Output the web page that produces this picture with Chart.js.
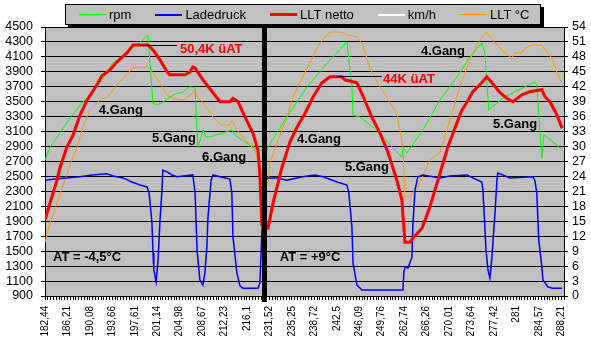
<!DOCTYPE html>
<html>
<head>
<meta charset="utf-8">
<script src="https://cdn.jsdelivr.net/npm/chart.js@4"></script>
<style>
  html, body { margin: 0; padding: 0; background: #fff; }
  #wrap { position: relative; width: 591px; height: 359px; }
  #legend {
    position: absolute; left: 65px; top: 4px; width: 476px; height: 21px;
    box-sizing: border-box; background: #c0c0c0; border: 1px solid #000;
    box-shadow: 3px 3px 0 #000; display: flex; align-items: center; padding-left: 13px;
    font: 13px "Liberation Sans", Arial, sans-serif; color: #000; white-space: nowrap;
  }
  .item { display: flex; align-items: center; margin-right: 24px; flex-shrink: 0; }
  .swatch { width: 27px; margin-right: 3px; }
</style>
</head>
<body>
<div id="wrap">
  <canvas id="chart" width="591" height="359"></canvas>
  <div id="legend"></div>
</div>
<script>
// x axis labels, one every 8 samples
const xLabels = ['182,44', '186,21', '190,08', '193,66', '197,61', '201,14', '204,98', '208,67',
  '212,23', '216,1', '231,52', '235,25', '238,72', '242,5', '246,09', '249,76', '262,74',
  '266,26', '270,01', '273,64', '277,42', '281', '284,57', '288,21'];

// [sample index, value]
const rpm = [[0,2720],[1.8,2890],[5.3,3080],[8.9,3280],[12.5,3455],[16,3590],[19.6,3750],
  [24.2,4020],[29.2,4150],[33.9,4300],[36.7,4390],[38.5,3480],[39.9,3455],[42,3495],
  [45.6,3590],[49.2,3630],[51.7,3700],[53.5,3685],[54.5,2880],[56.3,3120],[57.4,3030],
  [58.8,3030],[66.6,3120],[67.7,3055],[73.8,2895],[76.6,2855],[79.1,2830],[79.5,2895],
  [86.2,3295],[93.4,3700],[101.6,4060],[107.6,4300],[109.4,3700],[109.8,3320],[112.3,3295],
  [118.3,3120],[123,2920],[127.2,2760],[127.6,2880],[129,2815],[134.7,3120],[140.8,3525],
  [146.8,3830],[151.5,4100],[155.7,4285],[156.8,4150],[158.2,3390],[163.2,3550],[170.3,3685],
  [174.6,3765],[175.3,3725],[176.4,3120],[177.1,2745],[177.8,3055],[178.9,3030],[183.5,2880],
  [184.6,2880]];

const ladedruck = [[0,2450],[3.6,2465],[12.5,2495],[16.7,2520],[22.1,2535],[24.2,2505],
  [27.8,2480],[31,2425],[33.9,2385],[36.4,2360],[37.1,2280],[38.1,1890],[38.5,1475],
  [38.8,1250],[39.6,1090],[40.3,1380],[41,1915],[41.7,2320],[42,2585],[43.5,2560],[45.3,2520],
  [47,2495],[52.7,2520],[53.5,2280],[54.2,1515],[55.2,1115],[56.3,1045],[57,1210],[57.7,1555],
  [58.1,1955],[59.2,2450],[59.9,2520],[62.4,2495],[65.9,2465],[66.6,2280],[67,1690],[68.4,1210],
  [69.5,1035],[70.6,1005],[75.9,1005],[76.6,1075],[77.3,1745],[78.4,2450],[79.5,2480],
  [82.7,2480],[86.2,2450],[91.9,2495],[96.2,2520],[99.1,2495],[104.1,2425],[107.6,2385],
  [108.3,2280],[109.4,1825],[109.8,1340],[111.2,1045],[113,980],[127.6,980],[127.9,1210],
  [128.3,1290],[129.4,1275],[130.8,1420],[131.1,1825],[131.9,2320],[132.9,2495],[134.7,2520],
  [140.8,2480],[144.3,2505],[150.4,2520],[152.5,2480],[155.7,2425],[156.1,2320],[157.2,1515],
  [157.9,1250],[158.6,1140],[159.3,1420],[160.4,2010],[161.1,2450],[161.4,2545],[163.2,2520],
  [165.7,2480],[173.9,2495],[174.6,2450],[175.3,2280],[176,1650],[177.1,1290],[177.5,1115],
  [179.3,1020],[181,1005],[184.3,1005]];

const lltNetto = [[0,15.3],[1.8,18.7],[4.3,23.3],[5.3,25.7],[7.8,29.9],[10,32.3],[12.5,36.3],
  [15,39.3],[18.5,42.4],[20.3,44.2],[23.2,45.4],[25.7,47],[29.2,48.8],[31.4,50.4],[36.7,50.4],
  [38.5,49.4],[41,47.4],[43.5,45],[44.5,44.4],[49.9,44.4],[51.7,45],[52.7,46],[53.5,45.8],
  [56.3,43.4],[59.9,40.8],[62.4,39],[65.9,39],[67,39.7],[68.8,39],[71.3,35.9],[74.1,32.7],
  [75.9,29.3],[76.6,24.3],[77.3,14.3],[79.5,13.6],[81.3,18.7],[84.5,25.9],[87.3,30.9],
  [89.8,33.9],[92.7,36.7],[95.5,39.9],[98.7,42.8],[101.6,44],[105.8,44],[106.9,43.4],
  [111.2,42.8],[114,39.3],[116.5,35.9],[119.4,32.7],[122.2,28.9],[125.4,23.3],[127.2,19.3],
  [128.3,10.8],[130.1,10.8],[131.1,11.6],[134.4,13.6],[137.2,17.9],[140.1,23.3],[143.6,29.9],
  [146.8,34.7],[148.6,37.3],[150.4,38.9],[152.5,41],[155,42.4],[157.5,44],[159.3,42.8],
  [162.2,40.8],[164.6,39.7],[166.8,39],[170,40.4],[172.8,41],[177.1,41.4],[178.2,40],
  [180,39],[182.5,36.3],[184.3,33.7]];

const kmh = [];

const lltC = [[0,10.8],[1.8,14.7],[4.3,18.7],[7.1,23.3],[9.6,27.3],[11.4,29.9],[13.5,33.9],
  [16,37.3],[19.6,39.3],[22.1,39.9],[24.9,41.8],[27.8,43.8],[31.4,45.8],[36.7,46],[38.5,44.8],
  [41,42.8],[43.5,40.3],[45.6,39.7],[49.2,39.3],[51.7,40.3],[53.5,41.4],[54.2,39.9],[56.3,38.9],
  [59.9,35.9],[63.1,34.3],[65.9,34.3],[66.6,35.3],[68.4,33.3],[72,30.9],[74.1,30.3],[75.9,27.3],
  [77.3,23.7],[79.5,22.7],[80.2,26.7],[82.7,30.7],[86.2,35.9],[88.4,39.9],[91.9,44],[95.5,48],
  [98,50.8],[101.6,53],[105.8,53],[107.6,52.4],[111.2,52],[113.3,50.4],[115.8,45.8],[118.3,43],
  [121.9,39.9],[123,38.7],[125.4,36.7],[127.6,29.9],[128.3,19.9],[130.1,19.9],[131.1,20.7],
  [132.9,21.9],[137.2,27.3],[140.8,28.7],[144.3,35.3],[147.9,42],[151.5,47.4],[154.3,50.8],
  [157.5,53],[158.6,52],[161.1,50.4],[163.9,48.8],[166.4,47.8],[167.5,48.8],[170,48.8],
  [171.1,49.8],[173.6,50.4],[177.1,50.4],[178.9,49],[180.7,47.8],[182.5,44.8],[184.3,42.8]];

// text notes: [text, sample index, value]
const gangNotes = [['4.Gang', 19.2, 3390], ['5.Gang', 38.1, 3015], ['6.Gang', 56, 2760],
  ['4.Gang', 89.8, 2990], ['5.Gang', 106.9, 2615], ['4.Gang', 134, 4170], ['5.Gang', 159.7, 3195]];
const atNotes = [['AT = -4,5°C', 2.85, 1410], ['AT = +9°C', 83.7, 1410]];
// [text, index, value, pointer from, pointer to, pointer value] on the right axis
const peakNotes = [['50,4K üAT', 48.1, 49.4, 33.9, 47, 50.4], ['44K üAT', 120.5, 43.4, 104, 120.1, 44.2]];
const breakAt = 78.2;

const toXY = arr => arr.map(p => ({ x: p[0], y: p[1] }));

Chart.defaults.font.family = '"Liberation Sans", Arial, sans-serif';
Chart.defaults.color = '#000';

const plotBg = {
  id: 'plotBg',
  beforeDraw(chart) {
    const { ctx, chartArea: a } = chart;
    ctx.save();
    ctx.fillStyle = '#c0c0c0';
    ctx.fillRect(a.left, a.top, a.right - a.left, a.bottom - a.top);
    ctx.restore();
  }
};

const notes = {
  id: 'notes',
  afterDatasetsDraw(chart) {
    const { ctx, chartArea: a, scales } = chart;
    const x = scales.x, y = scales.y, y1 = scales.y1;
    ctx.save();
    // break between the two runs
    ctx.fillStyle = '#000';
    ctx.fillRect(Math.round(x.getPixelForValue(breakAt)) - 2, a.top - 1, 5, a.bottom - a.top + 7);

    ctx.font = 'bold 13px "Liberation Sans", Arial, sans-serif';
    ctx.textAlign = 'left';
    ctx.textBaseline = 'middle';
    ctx.fillStyle = '#000';
    gangNotes.concat(atNotes).forEach(n => {
      ctx.fillText(n[0], x.getPixelForValue(n[1]), y.getPixelForValue(n[2]));
    });

    peakNotes.forEach(n => {
      const py = Math.round(y1.getPixelForValue(n[5])) + 0.5;
      ctx.strokeStyle = '#000';
      ctx.lineWidth = 1;
      ctx.beginPath();
      ctx.moveTo(x.getPixelForValue(n[3]), py);
      ctx.lineTo(x.getPixelForValue(n[4]), py);
      ctx.stroke();
      ctx.fillStyle = '#ff0000';
      ctx.fillText(n[0], x.getPixelForValue(n[1]), y1.getPixelForValue(n[2]));
    });
    ctx.restore();
  }
};

const datasets = [
  { label: 'rpm', data: toXY(rpm), borderColor: '#00ff00', borderWidth: 1, yAxisID: 'y', order: 2 },
  { label: 'Ladedruck', data: toXY(ladedruck), borderColor: '#0000ff', borderWidth: 1.5, yAxisID: 'y', order: 1 },
  { label: 'LLT netto', data: toXY(lltNetto), borderColor: '#ff0000', borderWidth: 3, yAxisID: 'y1', order: 0 },
  { label: 'km/h', data: toXY(kmh), borderColor: '#ffffff', borderWidth: 1.5, yAxisID: 'y1', order: 4 },
  { label: 'LLT °C', data: toXY(lltC), borderColor: '#ff9900', borderWidth: 1, yAxisID: 'y1', order: 3 },
];
datasets.forEach(ds => { ds.pointRadius = 0; ds.tension = 0; ds.fill = false; });

function buildLegend() {
  const box = document.getElementById('legend');
  datasets.forEach(ds => {
    const item = document.createElement('div');
    item.className = 'item';
    const sw = document.createElement('div');
    sw.className = 'swatch';
    sw.style.height = Math.max(1, Math.round(ds.borderWidth)) + 'px';
    sw.style.background = ds.borderColor;
    const txt = document.createElement('span');
    txt.textContent = ds.label;
    item.appendChild(sw);
    item.appendChild(txt);
    box.appendChild(item);
  });
}

const tickFont = { size: 12.5 };
const plain = v => String(v);

new Chart(document.getElementById('chart'), {
  type: 'line',
  data: { datasets },
  options: {
    responsive: false,
    animation: false,
    layout: { padding: { top: 27, left: 0, right: 0, bottom: 0 } },
    plugins: { legend: { display: false }, tooltip: { enabled: false } },
    scales: {
      x: {
        type: 'linear', min: 0, max: 185,
        afterBuildTicks: s => { s.ticks = Array.from({ length: 186 }, (v, i) => ({ value: i })); },
        afterFit: s => { s.height = 63; },
        grid: { drawOnChartArea: false, color: '#000', tickLength: 4 },
        border: { color: '#000' },
        ticks: {
          autoSkip: false, minRotation: 90, maxRotation: 90, padding: 6,
          font: { size: 10 },
          callback: v => (v % 8 === 0 ? xLabels[v / 8] : '')
        }
      },
      y: {
        position: 'left', min: 900, max: 4500,
        afterFit: s => { s.width = 45; },
        grid: { color: '#000', tickLength: 4 },
        border: { color: '#000' },
        ticks: { stepSize: 200, autoSkip: false, padding: 8, font: tickFont, callback: plain }
      },
      y1: {
        position: 'right', min: 0, max: 54,
        afterFit: s => { s.width = 27; },
        grid: { drawOnChartArea: false, color: '#000', tickLength: 4 },
        border: { color: '#000' },
        ticks: { stepSize: 3, autoSkip: false, padding: 4, font: tickFont, callback: plain }
      }
    }
  },
  plugins: [plotBg, notes]
});

buildLegend();
</script>
</body>
</html>
